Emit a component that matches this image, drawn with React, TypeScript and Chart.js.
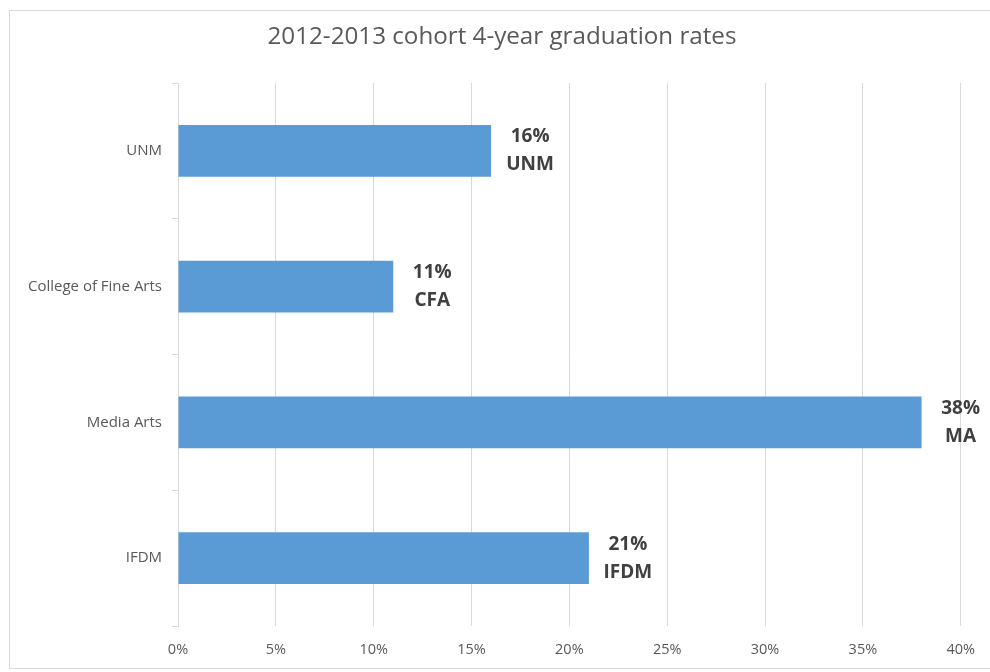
import React, { useEffect, useRef } from "react";
import { Chart, registerables } from "chart.js";

Chart.register(...registerables);

const title = "2012-2013 cohort 4-year graduation rates";
const categories = ["UNM", "College of Fine Arts", "Media Arts", "IFDM"];
const abbreviations = ["UNM", "CFA", "MA", "IFDM"];
const rates = [16, 11, 38, 21];
const xMin = 0;
const xMax = 40;
const xStep = 5;

const labelPlugin = {
  id: "barLabels",
  afterDatasetsDraw(chart: any) {
    const ctx = chart.ctx;
    const meta = chart.getDatasetMeta(0);
    ctx.save();
    ctx.font = "bold 19px 'Open Sans'";
    ctx.fillStyle = "#404040";
    ctx.textAlign = "center";
    ctx.textBaseline = "middle";
    meta.data.forEach((bar: any, i: number) => {
      const cx = bar.x + 39;
      ctx.fillText(rates[i] + "%", cx, bar.y - 14);
      ctx.fillText(abbreviations[i], cx, bar.y + 14);
    });
    ctx.restore();
  },
};

const titlePlugin = {
  id: "customTitle",
  afterDraw(chart: any) {
    const ctx = chart.ctx;
    ctx.save();
    ctx.font = "24.2px 'Open Sans'";
    ctx.fillStyle = "#595959";
    ctx.textAlign = "center";
    ctx.textBaseline = "middle";
    ctx.fillText(title, 502, 37);
    ctx.restore();
  },
};

export default function App() {
  const ref = useRef<HTMLCanvasElement>(null);
  useEffect(() => {
    document.body.style.margin = "0";
    const chart = new Chart(ref.current!, {
      type: "bar",
      data: {
        labels: categories,
        datasets: [
          {
            data: rates,
            backgroundColor: "#5B9BD5",
            borderWidth: 0,
            categoryPercentage: 1,
            barPercentage: 0.383,
          },
        ],
      },
      options: {
        indexAxis: "y",
        animation: false,
        responsive: false,
        devicePixelRatio: 1,
        layout: { padding: { left: 0, right: 29, top: 83, bottom: 0 } },
        plugins: {
          legend: { display: false },
          tooltip: { enabled: false },
          title: { display: false },
        },
        scales: {
          x: {
            min: xMin,
            max: xMax,
            afterFit: (scale: any) => {
              scale.height = 46;
            },
            ticks: {
              stepSize: xStep,
              callback: (v: any) => v + "%",
              color: "#595959",
              font: { family: "'Open Sans'", size: 14.5 },
              padding: 15,
            },
            grid: { color: "#d9d9d9", drawTicks: false },
            border: { display: false },
          },
          y: {
            afterFit: (scale: any) => {
              scale.width = 178;
            },
            ticks: {
              color: "#595959",
              font: { family: "'Open Sans'", size: 15 },
              padding: 10,
            },
            grid: {
              offset: true,
              drawOnChartArea: false,
              tickLength: 6,
              color: "#d9d9d9",
            },
            border: { display: true, color: "#d9d9d9" },
          },
        },
      },
      plugins: [labelPlugin, titlePlugin],
    });
    return () => chart.destroy();
  }, []);
  return (
    <div style={{ position: "relative", width: 990, height: 672, overflow: "hidden", background: "#fff" }}>
      <div
        style={{
          position: "absolute",
          left: 9,
          top: 10,
          width: 1000,
          height: 657,
          border: "1px solid #d9d9d9",
          pointerEvents: "none",
        }}
      />
      <canvas ref={ref} width={990} height={672} style={{ position: "absolute", left: 0, top: 0 }} />
    </div>
  );
}
